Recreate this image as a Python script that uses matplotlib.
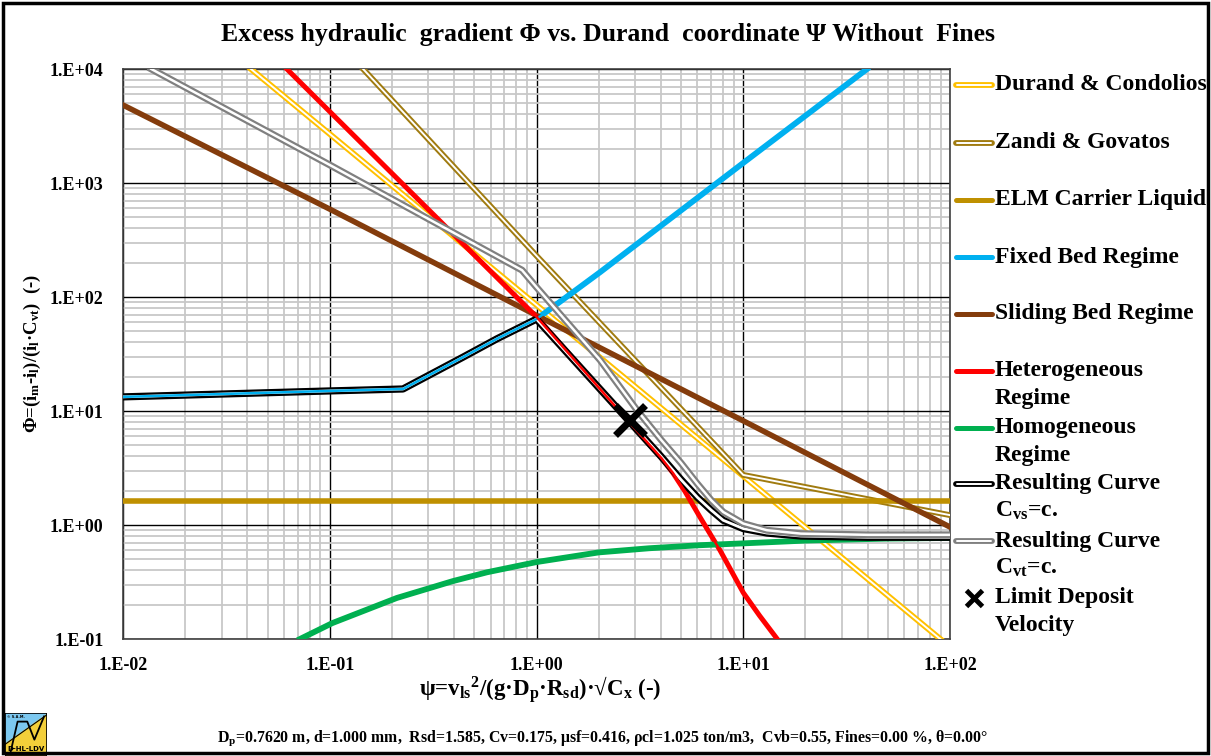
import numpy as np
import matplotlib.pyplot as plt
from matplotlib.lines import Line2D
from matplotlib.patches import Rectangle, Polygon
from matplotlib.ticker import LogLocator, FuncFormatter, NullFormatter

plt.rcParams['font.family'] = ['Liberation Serif', 'DejaVu Serif']
plt.rcParams['font.weight'] = 'bold'
plt.rcParams['mathtext.fontset'] = 'custom'
plt.rcParams['mathtext.rm'] = 'Liberation Serif:bold'
plt.rcParams['mathtext.it'] = 'Liberation Serif:bold'
plt.rcParams['mathtext.bf'] = 'Liberation Serif:bold'

# values
durand_x = [0.04, 0.1, 1, 10, 100]
durand_y = [10600, 2690, 85, 2.69, 0.085]
zandi_x = [0.145, 1, 10, 100]
zandi_y = [10000, 230, 2.75, 1.22]
elm_x = [0.01, 100]
elm_y = [1.62, 1.62]
fixed_x = [0.01, 0.1, 0.226, 0.305, 0.44, 0.644, 1.0, 2.03, 10, 39.7]
fixed_y = [13.3, 15.0, 15.6, 20.8, 29.6, 43.0, 64, 165, 1500, 10000]
sliding_x = [0.01, 0.1, 1, 10, 100]
sliding_y = [4830, 590, 69, 8.2, 0.96]
hetero_x = [0.062, 0.1, 1, 2.83, 4.0, 4.57, 5.2, 6.18, 7.72, 10, 12, 14.6]
hetero_y = [10000, 4230, 67, 7.85, 3.9, 2.86, 2.0, 1.17, 0.6, 0.255, 0.16, 0.1]
homo_x = [0.0718, 0.103, 0.211, 0.305, 0.394, 0.577, 1, 2, 3.5, 6.18, 10, 20, 50, 100]
homo_y = [0.1, 0.138, 0.229, 0.28, 0.322, 0.385, 0.473, 0.575, 0.625, 0.665, 0.69, 0.73, 0.76, 0.77]
cvs_x = [0.01, 0.1, 0.226, 0.305, 0.44, 0.644, 1.0, 2.83, 4.0, 5, 6, 7, 8, 10, 13, 19, 40, 100]
cvs_y = [13.3, 15.0, 15.6, 20.8, 29.6, 43.0, 64, 8.0, 4.0, 2.5, 1.75, 1.35, 1.1, 0.93, 0.85, 0.8, 0.78, 0.78]
cvt_x = [0.0137, 0.1, 0.851, 1.0, 2.03, 3.06, 4, 5, 6, 7, 8, 10, 13, 19, 40, 100]
cvt_y = [10000, 1440, 172, 122, 28, 10.2, 5.6, 3.5, 2.3, 1.65, 1.3, 1.03, 0.9, 0.84, 0.82, 0.82]
ldv_x = [2.83]
ldv_y = [8.3]

c_durand = '#FFC000'
c_zandi = '#A07B10'
c_elm = '#BF9000'
c_fixed = '#00B0F0'
c_sliding = '#843C0C'
c_hetero = '#FF0000'
c_homo = '#00B050'
c_cvt = '#808080'

W, H = 1211, 756
fig = plt.figure(figsize=(W / 100, H / 100), dpi=100)
ax = fig.add_axes([123 / W, 1 - 639 / H, (950 - 123) / W, (639 - 69) / H])
ax.set_xscale('log')
ax.set_yscale('log')
ax.set_xlim(0.01, 100)
ax.set_ylim(0.1, 10000)


def double(x, y, color, wo, wi, z):
    ax.plot(x, y, color=color, lw=wo, zorder=z)
    ax.plot(x, y, color='white', lw=wi, zorder=z + 0.05)


double(durand_x, durand_y, c_durand, 4.2, 1.4, 3)
double(zandi_x, zandi_y, c_zandi, 4.2, 1.4, 3.2)
ax.plot(elm_x, elm_y, color=c_elm, lw=4.0, zorder=3.4)
ax.plot(fixed_x, fixed_y, color=c_fixed, lw=4.2, zorder=3.5)
ax.plot(sliding_x, sliding_y, color=c_sliding, lw=4.0, zorder=3.6)
ax.plot(hetero_x, hetero_y, color=c_hetero, lw=3.6, zorder=3.7)
ax.plot(homo_x, homo_y, color=c_homo, lw=4.2, zorder=3.8)
double(cvs_x, cvs_y, 'black', 5.2, 2.0, 4)
# the gap of the double line shows the fixed bed / heterogeneous lines beneath
ax.plot(fixed_x, fixed_y, color=c_fixed, lw=1.8, zorder=4.2)
ax.plot(hetero_x, hetero_y, color=c_hetero, lw=1.8, zorder=4.2)
double(cvt_x, cvt_y, c_cvt, 5.0, 1.8, 4.4)
ax.plot(ldv_x, ldv_y, 'x', color='black', ms=22, mew=5, zorder=5)

ax.xaxis.set_major_locator(LogLocator(base=10, numticks=10))
ax.yaxis.set_major_locator(LogLocator(base=10, numticks=10))
ax.xaxis.set_minor_locator(LogLocator(base=10, subs=np.arange(2, 10), numticks=20))
ax.yaxis.set_minor_locator(LogLocator(base=10, subs=np.arange(2, 10), numticks=20))
fmt = FuncFormatter(lambda v, _: '1.E%+03d' % round(np.log10(v)))
ax.xaxis.set_major_formatter(fmt)
ax.yaxis.set_major_formatter(fmt)
ax.xaxis.set_minor_formatter(NullFormatter())
ax.yaxis.set_minor_formatter(NullFormatter())
ax.tick_params(which='both', length=0)
ax.tick_params(axis='x', pad=13, labelsize=13)
ax.tick_params(axis='y', pad=14, labelsize=13)
ax.grid(which='minor', color='#C8C8C8', lw=1.3, zorder=1)
ax.grid(which='major', color='black', lw=1.0, zorder=1.5)
ax.set_axisbelow(True)
for s in ax.spines.values():
    s.set_color('#404040')
    s.set_linewidth(1.2)

fig.text(608 / W, 1 - 35 / H, 'Excess hydraulic  gradient Φ vs. Durand  coordinate Ψ Without  Fines',
         ha='center', va='center', fontsize=18.5, fontweight='bold')
fig.text(540 / W, 1 - 690 / H,
         r'ψ=v$_\mathrm{ls}$$^\mathrm{2}$/(g·D$_\mathrm{p}$·R$_\mathrm{sd}$)·√C$_\mathrm{x}$ (-)',
         ha='center', va='center', fontsize=16.5, fontweight='bold')
fig.text(32 / W, 1 - 354 / H,
         r'Φ=(i$_\mathrm{m}$-i$_\mathrm{l}$)/(i$_\mathrm{l}$·C$_\mathrm{vt}$)  (-)',
         ha='center', va='center', rotation=90, fontsize=13.5, fontweight='bold')
fig.text(602 / W, 1 - 738 / H,
         r'D$_\mathrm{p}$=0.7620 m, d=1.000 mm,  Rsd=1.585, Cv=0.175, μsf=0.416, '
         r'ρcl=1.025 ton/m3,  Cvb=0.55, Fines=0.00 %, θ=0.00°',
         ha='center', va='center', fontsize=11.4, fontweight='bold')

# legend, drawn by hand so the handle sits on the first text line
leg_labels = [['Durand & Condolios'], ['Zandi & Govatos'], ['ELM Carrier Liquid'],
              ['Fixed Bed Regime'], ['Sliding Bed Regime'], ['Heterogeneous', 'Regime'],
              ['Homogeneous', 'Regime'], ['Resulting Curve', r'C$_\mathrm{vs}$=c.'],
              ['Resulting Curve', r'C$_\mathrm{vt}$=c.'], ['Limit Deposit', 'Velocity']]
leg_styles = [('d', c_durand), ('d', c_zandi), ('s', c_elm), ('s', c_fixed), ('s', c_sliding),
              ('s', c_hetero), ('s', c_homo), ('d', 'black'), ('d', c_cvt), ('m', 'black')]
leg_py = [85, 143, 200, 257, 314, 371, 428, 484, 541, 598]


def fx(px):
    return px / W


def fy(py):
    return 1 - py / H


for lines, (kind, col), py in zip(leg_labels, leg_styles, leg_py):
    if kind == 'm':
        fig.add_artist(Line2D([fx(974)], [fy(py)], marker='x', color=col, ms=11, mew=3.5,
                              transform=fig.transFigure))
    else:
        fig.add_artist(Line2D([fx(956), fx(992)], [fy(py)] * 2, color=col,
                              lw=4.2 if kind == 'd' else 3.6, solid_capstyle='round',
                              transform=fig.transFigure))
        if kind == 'd':
            fig.add_artist(Line2D([fx(957), fx(991)], [fy(py)] * 2, color='white', lw=1.4,
                                  solid_capstyle='round', transform=fig.transFigure))
    for i, t in enumerate(lines):
        fig.text(fx(995), fy(py + 27 * i), t, ha='left', va='center', fontsize=17,
                 fontweight='bold')

# outer frame
fig.add_artist(Rectangle((3 / W, 3 / H), 1 - 6 / W, 1 - 6 / H, fill=False,
                         edgecolor='black', lw=2.5, transform=fig.transFigure))

# logo
lax = fig.add_axes([5 / W, 0, 42 / W, 43 / H])
lax.set_xlim(0, 1)
lax.set_ylim(0, 1)
lax.axis('off')
lax.add_patch(Rectangle((0, 0), 1, 1, color='#7CC8F0'))
lax.add_patch(Polygon([[0, 0], [1, 0], [1, 0.96], [0, 0.27]], color='#F3CF3A'))
lax.plot([0.13, 0.3, 0.53, 0.7, 0.93], [0.08, 0.8, 0.8, 0.38, 0.92], color='black', lw=1.3)
lax.plot([0, 1], [0.27, 0.96], color='black', lw=0.8)
lax.add_patch(Rectangle((0, 0), 1, 1, fill=False, edgecolor='black', lw=1.2))
lax.text(0.5, 0.17, 'D-HL-LDV', ha='center', va='center', fontsize=5, fontweight='bold',
         family='DejaVu Sans')
lax.text(0.04, 0.9, '© S.A.M.', ha='left', va='center', fontsize=2.5, family='DejaVu Sans')

fig.savefig('out.png', dpi=100)
